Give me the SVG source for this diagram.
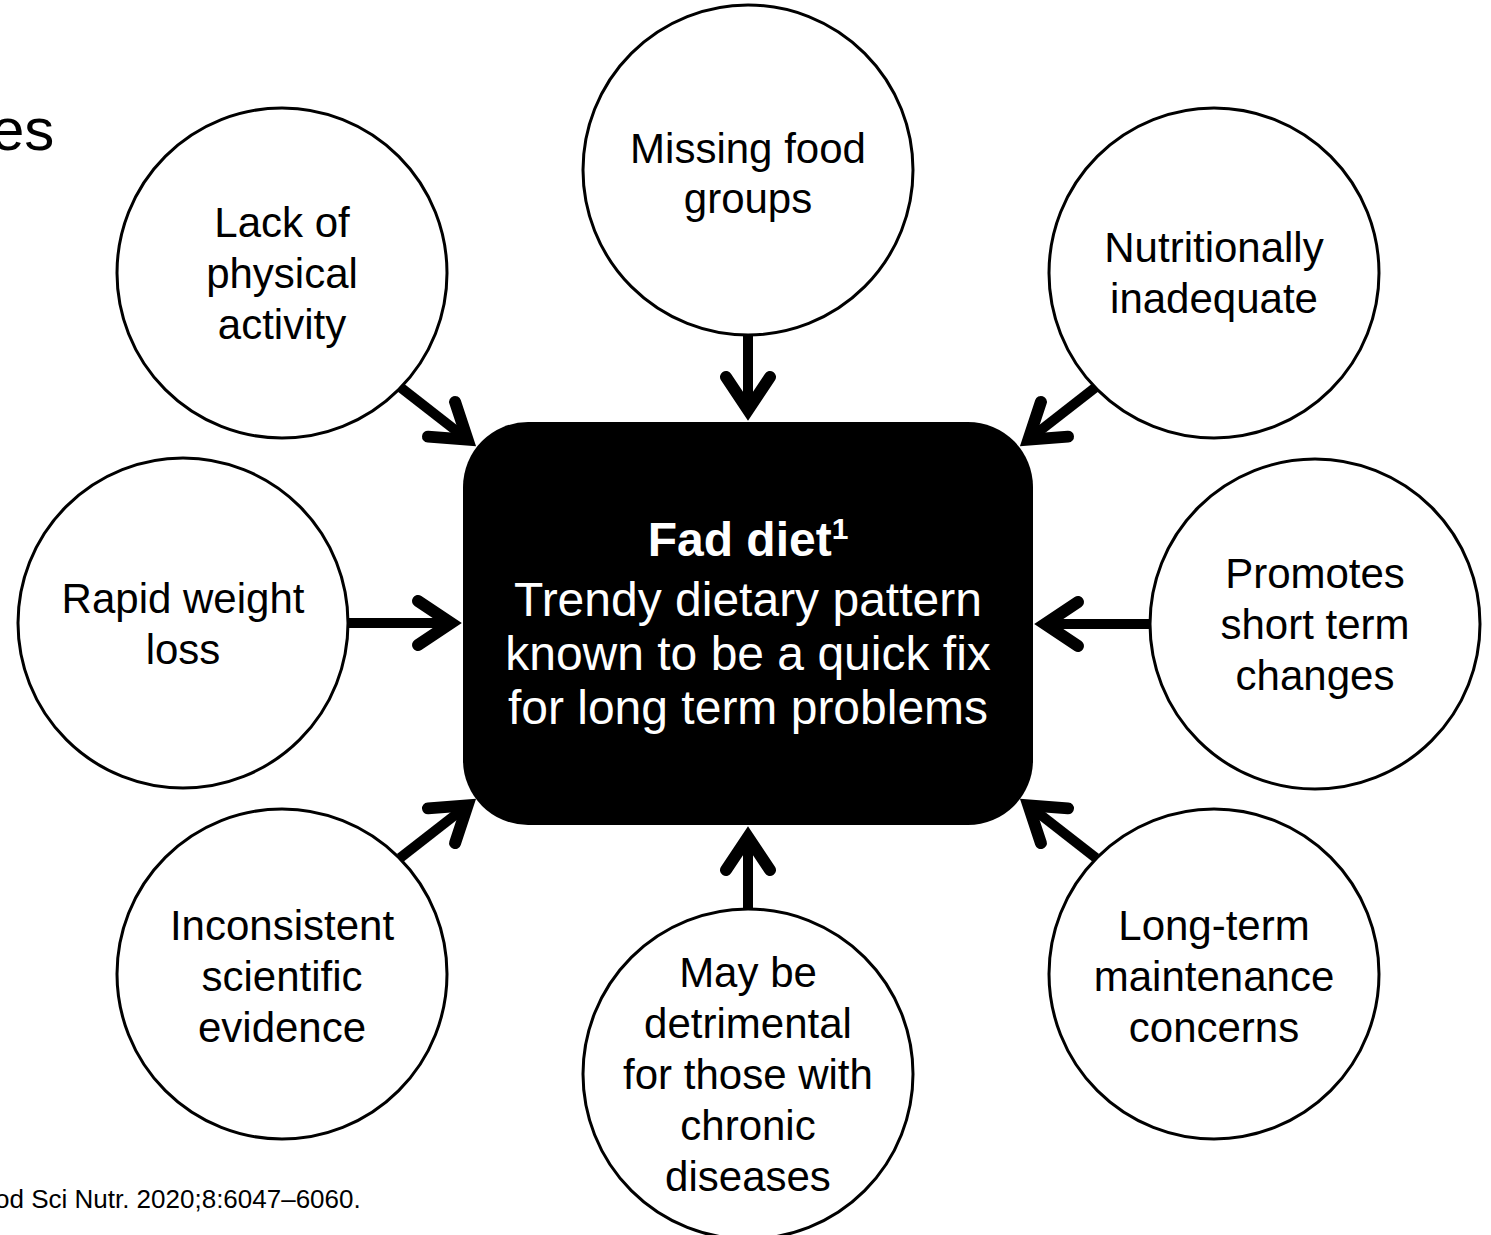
<svg xmlns="http://www.w3.org/2000/svg" xmlns:xlink="http://www.w3.org/1999/xlink" width="1491" height="1235" viewBox="0 0 1491 1235">
<style>
.bg{fill:#ffffff}
.node circle{fill:#ffffff;stroke:#000000;stroke-width:3}
.t{font-family:"Liberation Sans",Arial,sans-serif;font-size:42px;fill:#000000;text-anchor:middle}
.ct{font-family:"Liberation Sans",Arial,sans-serif;font-size:48px;fill:#ffffff;text-anchor:middle}
.shaft{stroke:#000000;stroke-width:10;fill:none}
.misc{font-family:"Liberation Sans",Arial,sans-serif;fill:#000000}
</style>
<defs>
<path id="ah" d="M -45 -22 L -12 0 L -45 22" fill="none" stroke="#000000" stroke-width="12" stroke-linecap="round" stroke-linejoin="miter"/>
</defs>
<rect class="bg" x="0" y="0" width="1491" height="1235"/>
<text class="misc" x="-9" y="150" font-size="60">es</text>
<text class="misc" x="-5" y="1208" font-size="26">od Sci Nutr. 2020;8:6047–6060.</text>

<g id="connectors">
<line class="shaft" x1="400" y1="387" x2="467.5" y2="439.6"/>
<use xlink:href="#ah" transform="translate(477 447) rotate(38)"/>
<line class="shaft" x1="748" y1="334" x2="748" y2="410"/>
<use xlink:href="#ah" transform="translate(748 422) rotate(90)"/>
<line class="shaft" x1="1096" y1="387" x2="1028.5" y2="439.6"/>
<use xlink:href="#ah" transform="translate(1019 447) rotate(142)"/>
<line class="shaft" x1="347" y1="623" x2="451" y2="623"/>
<use xlink:href="#ah" transform="translate(463 623) rotate(0)"/>
<line class="shaft" x1="1151" y1="624" x2="1045" y2="624"/>
<use xlink:href="#ah" transform="translate(1033 624) rotate(180)"/>
<line class="shaft" x1="400" y1="858" x2="467.5" y2="805.4"/>
<use xlink:href="#ah" transform="translate(477 798) rotate(-38)"/>
<line class="shaft" x1="748" y1="909" x2="748" y2="837"/>
<use xlink:href="#ah" transform="translate(748 825) rotate(-90)"/>
<line class="shaft" x1="1096" y1="858" x2="1028.5" y2="805.4"/>
<use xlink:href="#ah" transform="translate(1019 798) rotate(218)"/>
</g>

<g id="center" class="node">
<rect x="463" y="422" width="570" height="403" rx="65" ry="65" fill="#000000"/>
<text class="ct" x="748" y="556" font-weight="bold">Fad diet<tspan font-size="30" dy="-17">1</tspan></text>
<text class="ct" x="748" y="616">Trendy dietary pattern</text>
<text class="ct" x="748" y="670">known to be a quick fix</text>
<text class="ct" x="748" y="724">for long term problems</text>
</g>

<g id="missing" class="node">
<circle cx="748" cy="170" r="165"/>
<text class="t" x="748" y="163">Missing food</text>
<text class="t" x="748" y="213">groups</text>
</g>
<g id="lack" class="node">
<circle cx="282" cy="273" r="165"/>
<text class="t" x="282" y="237">Lack of</text>
<text class="t" x="282" y="288">physical</text>
<text class="t" x="282" y="339">activity</text>
</g>
<g id="nutri" class="node">
<circle cx="1214" cy="273" r="165"/>
<text class="t" x="1214" y="262">Nutritionally</text>
<text class="t" x="1214" y="313">inadequate</text>
</g>
<g id="rapid" class="node">
<circle cx="183" cy="623" r="165"/>
<text class="t" x="183" y="613">Rapid weight</text>
<text class="t" x="183" y="664">loss</text>
</g>
<g id="promotes" class="node">
<circle cx="1315" cy="624" r="165"/>
<text class="t" x="1315" y="588">Promotes</text>
<text class="t" x="1315" y="639">short term</text>
<text class="t" x="1315" y="690">changes</text>
</g>
<g id="inconsistent" class="node">
<circle cx="282" cy="974" r="165"/>
<text class="t" x="282" y="940">Inconsistent</text>
<text class="t" x="282" y="991">scientific</text>
<text class="t" x="282" y="1042">evidence</text>
</g>
<g id="maybe" class="node">
<circle cx="748" cy="1074" r="165"/>
<text class="t" x="748" y="987">May be</text>
<text class="t" x="748" y="1038">detrimental</text>
<text class="t" x="748" y="1089">for those with</text>
<text class="t" x="748" y="1140">chronic</text>
<text class="t" x="748" y="1191">diseases</text>
</g>
<g id="longterm" class="node">
<circle cx="1214" cy="974" r="165"/>
<text class="t" x="1214" y="940">Long-term</text>
<text class="t" x="1214" y="991">maintenance</text>
<text class="t" x="1214" y="1042">concerns</text>
</g>
</svg>
